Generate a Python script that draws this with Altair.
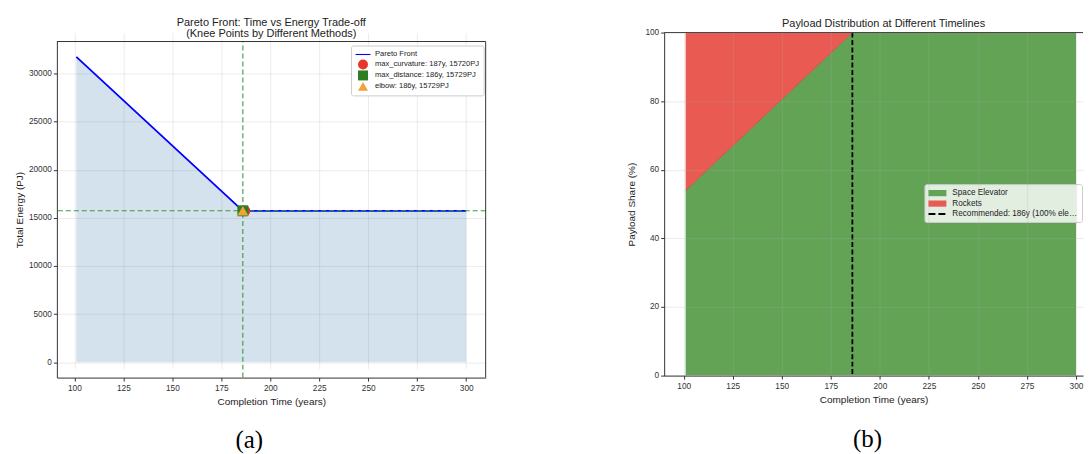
import altair as alt
import pandas as pd

# ---------------- data ----------------
title_a = ["Pareto Front: Time vs Energy Trade-off", "(Knee Points by Different Methods)"]
title_b = ["Payload Distribution at Different Timelines"]
caption_a = ["(a)"]
caption_b = ["(b)"]

pareto_time = [101, 186, 300]
pareto_energy = [31720, 15729, 15720]

knee_labels = ["max_curvature: 187y, 15720PJ", "max_distance: 186y, 15729PJ", "elbow: 186y, 15729PJ"]
knee_time = [187, 186, 186]
knee_energy = [15720, 15729, 15729]

a_time_lim = [91.05, 309.95]
a_energy_lim = [-1586, 33306]

legend_a_labels = ["Pareto Front"] + knee_labels
legend_a_colors = ["#0000ff", "#e8342a", "#2e7d22", "#f2a23a"]
legend_a_shapes = ["M-1.5,-0.11H1.5V0.11H-1.5Z", "circle", "square", "triangle-up"]

rec_time = [186]
rec_energy = [15729]

share_time = [101, 186, 300]
elevator_share = [54, 100, 100]
rocket_share = [46, 0, 0]
share_lim = [0, 100]

legend_b_labels = ["Space Elevator", "Rockets", "Recommended: 186y (100% elevator)"]
legend_b_colors = ["#62a356", "#e85a52", "#000000"]
legend_b_shapes = ["M-1.8,-0.62H1.8V0.62H-1.8Z", "M-1.8,-0.62H1.8V0.62H-1.8Z",
                   "M-1.8,-0.2H-0.4V0.2H-1.8Z M0.2,-0.2H1.6V0.2H0.2Z"]

FONT = "Liberation Sans"
SERIF = "Liberation Serif"
FRAME = "#333333"


def text_layers(lines, x0, y0, step, size, font, color="#222222"):
    out = []
    for i, ln in enumerate(lines):
        out.append(alt.Chart(pd.DataFrame({"t": [ln]})).mark_text(
            font=font, fontSize=size, color=color, baseline="middle", align="center"
        ).encode(text="t:N", x=alt.value(x0), y=alt.value(y0 + i * step)))
    return out


# ---------------- panel (a) ----------------
WA, HA, TOPA = 430, 337, 9
df_p = pd.DataFrame({"time": pareto_time, "energy": pareto_energy, "label": "Pareto Front"})
df_k = pd.DataFrame({"time": knee_time, "energy": knee_energy, "label": knee_labels,
                     "order": [0, 1, 2]})
df_r = pd.DataFrame({"time": rec_time, "energy": rec_energy,
                     "e0": [a_energy_lim[0]], "e1": [a_energy_lim[1]]})
df_frame_a = pd.DataFrame({"time": [a_time_lim[1]], "e0": [a_energy_lim[0]], "e1": [a_energy_lim[1]]})

xa = alt.X("time:Q", scale=alt.Scale(domain=a_time_lim, nice=False, zero=False),
           axis=alt.Axis(values=list(range(100, 301, 25)), title="Completion Time (years)",
                         domain=True, domainColor=FRAME))
ya = alt.Y("energy:Q", scale=alt.Scale(domain=a_energy_lim, nice=False, zero=False,
                                       range=[HA + TOPA, TOPA]),
           axis=alt.Axis(values=list(range(0, 30001, 5000)), format="d", title="Total Energy (PJ)",
                         titlePadding=4, domain=True, domainColor=FRAME))

color_a = alt.Color("label:N", scale=alt.Scale(domain=legend_a_labels, range=legend_a_colors),
                    legend=alt.Legend(title=None, orient="none", legendX=295, legendY=4 + TOPA,
                                      labelFontSize=7.6, labelFont=FONT, symbolSize=100,
                                      symbolStrokeWidth=0, rowPadding=1, symbolOffset=3,
                                      fillColor="white", strokeColor="#cccccc", padding=4,
                                      cornerRadius=2, labelOffset=7, symbolOpacity=1))
shape_a = alt.Shape("label:N", scale=alt.Scale(domain=legend_a_labels, range=legend_a_shapes),
                    legend=alt.Legend(title=None))

area_a = alt.Chart(df_p).mark_area(color="steelblue", opacity=0.23).encode(
    x=xa, y=ya, y2=alt.datum(0))
line_a = alt.Chart(df_p).mark_line(strokeWidth=1.8).encode(x="time:Q", y="energy:Q", color=color_a)
vrule = alt.Chart(df_r).mark_rule(color="#3b9a3b", strokeDash=[5, 3], strokeWidth=1.1).encode(
    x="time:Q", y="e0:Q", y2="e1:Q")
hrule = alt.Chart(df_r).mark_rule(color="#3b9a3b", strokeDash=[5, 3], strokeWidth=1.1).encode(y="energy:Q")
pts = alt.Chart(df_k).mark_point(filled=True, size=120, opacity=1).encode(
    x="time:Q", y="energy:Q", color=color_a, shape=shape_a, order="order:Q")
top_a = alt.Chart(df_frame_a).mark_rule(color=FRAME, strokeWidth=1).encode(y="e1:Q")
right_a = alt.Chart(df_frame_a).mark_rule(color=FRAME, strokeWidth=1).encode(
    x="time:Q", y="e0:Q", y2="e1:Q")

layer_a = alt.layer(
    area_a, line_a, vrule, hrule, pts, top_a, right_a,
    *text_layers(title_a, WA / 2, -10, 11, 11, FONT),
    *text_layers(caption_a, 193, 409, 0, 25, SERIF, "#000000"),
).properties(width=WA, height=HA + TOPA)

# ---------------- panel (b) ----------------
WB, HB = 420, 344
KB = 1.967  # pixels per year
df_s = pd.DataFrame({"time": share_time, "elev": elevator_share, "rock": rocket_share})
df_s["top"] = [e + r for e, r in zip(elevator_share, rocket_share)]
df_s["zero"] = [0] * len(share_time)
df_se = df_s.assign(label="Space Elevator")
df_sr = df_s.assign(label="Rockets")
df_rec = pd.DataFrame({"time": rec_time, "label": [legend_b_labels[2]]})
df_leg = pd.DataFrame({"label": legend_b_labels, "time": rec_time * 3, "zero": [0, 0, 0]})
df_top_b = pd.DataFrame({"top": [share_lim[1]]})

xb_scale = alt.Scale(domain=[90.05, 90.05 + WB / KB], nice=False, zero=False)
xb = alt.X("time:Q", scale=xb_scale,
           axis=alt.Axis(values=list(range(100, 301, 25)), title="Completion Time (years)", zindex=1,
                         domain=True, domainColor=FRAME))
yb = alt.Y("zero:Q", scale=alt.Scale(domain=share_lim, nice=False),
           axis=alt.Axis(values=list(range(0, 101, 20)), title="Payload Share (%)", zindex=1,
                         domain=True, domainColor=FRAME, titlePadding=8))

color_b = alt.Color("label:N", scale=alt.Scale(domain=legend_b_labels, range=legend_b_colors),
                    legend=alt.Legend(title=None, orient="none", legendX=261, legendY=152,
                                      labelFontSize=8.2, labelFont=FONT, symbolSize=100,
                                      symbolStrokeWidth=0, rowPadding=1.5, symbolOffset=4,
                                      fillColor="rgba(255,255,255,0.82)", strokeColor="#cccccc",
                                      padding=4, cornerRadius=2, labelOffset=10, labelLimit=126,
                                      symbolOpacity=1))
shape_b = alt.Shape("label:N", scale=alt.Scale(domain=legend_b_labels, range=legend_b_shapes),
                    legend=alt.Legend(title=None))

area_e = alt.Chart(df_se).mark_area(opacity=1, clip=True).encode(
    x=xb, y=yb, y2="elev:Q", color=color_b)
area_r = alt.Chart(df_sr).mark_area(opacity=1, clip=True).encode(
    x="time:Q", y="elev:Q", y2="top:Q", color=color_b)
edge = alt.Chart(df_se).mark_line(color="#c8463c", strokeWidth=0.8, clip=True).encode(
    x="time:Q", y="elev:Q")
rec_rule = alt.Chart(df_rec).mark_rule(strokeDash=[5, 2.5], strokeWidth=1.8).encode(
    x="time:Q", color=color_b)
leg_pts = alt.Chart(df_leg).mark_point(filled=True, size=0, opacity=1).encode(
    x="time:Q", y="zero:Q", color=color_b, shape=shape_b)
top_b = alt.Chart(df_top_b).mark_rule(color=FRAME, strokeWidth=1).encode(y="top:Q")

layer_b = alt.layer(
    area_e, area_r, edge, rec_rule, leg_pts, top_b,
    *text_layers(title_b, 220, -9, 0, 11, FONT),
    *text_layers(caption_b, 204, 408, 0, 25, SERIF, "#000000"),
).properties(width=WB, height=HB)

chart = alt.hconcat(layer_a, layer_b, spacing=139).resolve_scale(
    color="independent", shape="independent", x="independent", y="independent"
).configure(
    padding={"left": 5, "top": 7, "right": 0, "bottom": 0}, background="white"
).configure_view(stroke="transparent").configure_axis(
    labelFont=FONT, titleFont=FONT, labelFontSize=8.3, titleFontSize=10, titleFontWeight="normal",
    labelColor="#333333", titleColor="#222222", tickColor="#333333", tickSize=3.5, labelPadding=2,
    domain=False, gridColor="#b0b0b0", gridOpacity=0.3, gridWidth=0.8, titlePadding=5
).configure_legend(labelColor="#222222")

chart.save("out.html", embed_options={"renderer": "svg", "actions": False})
